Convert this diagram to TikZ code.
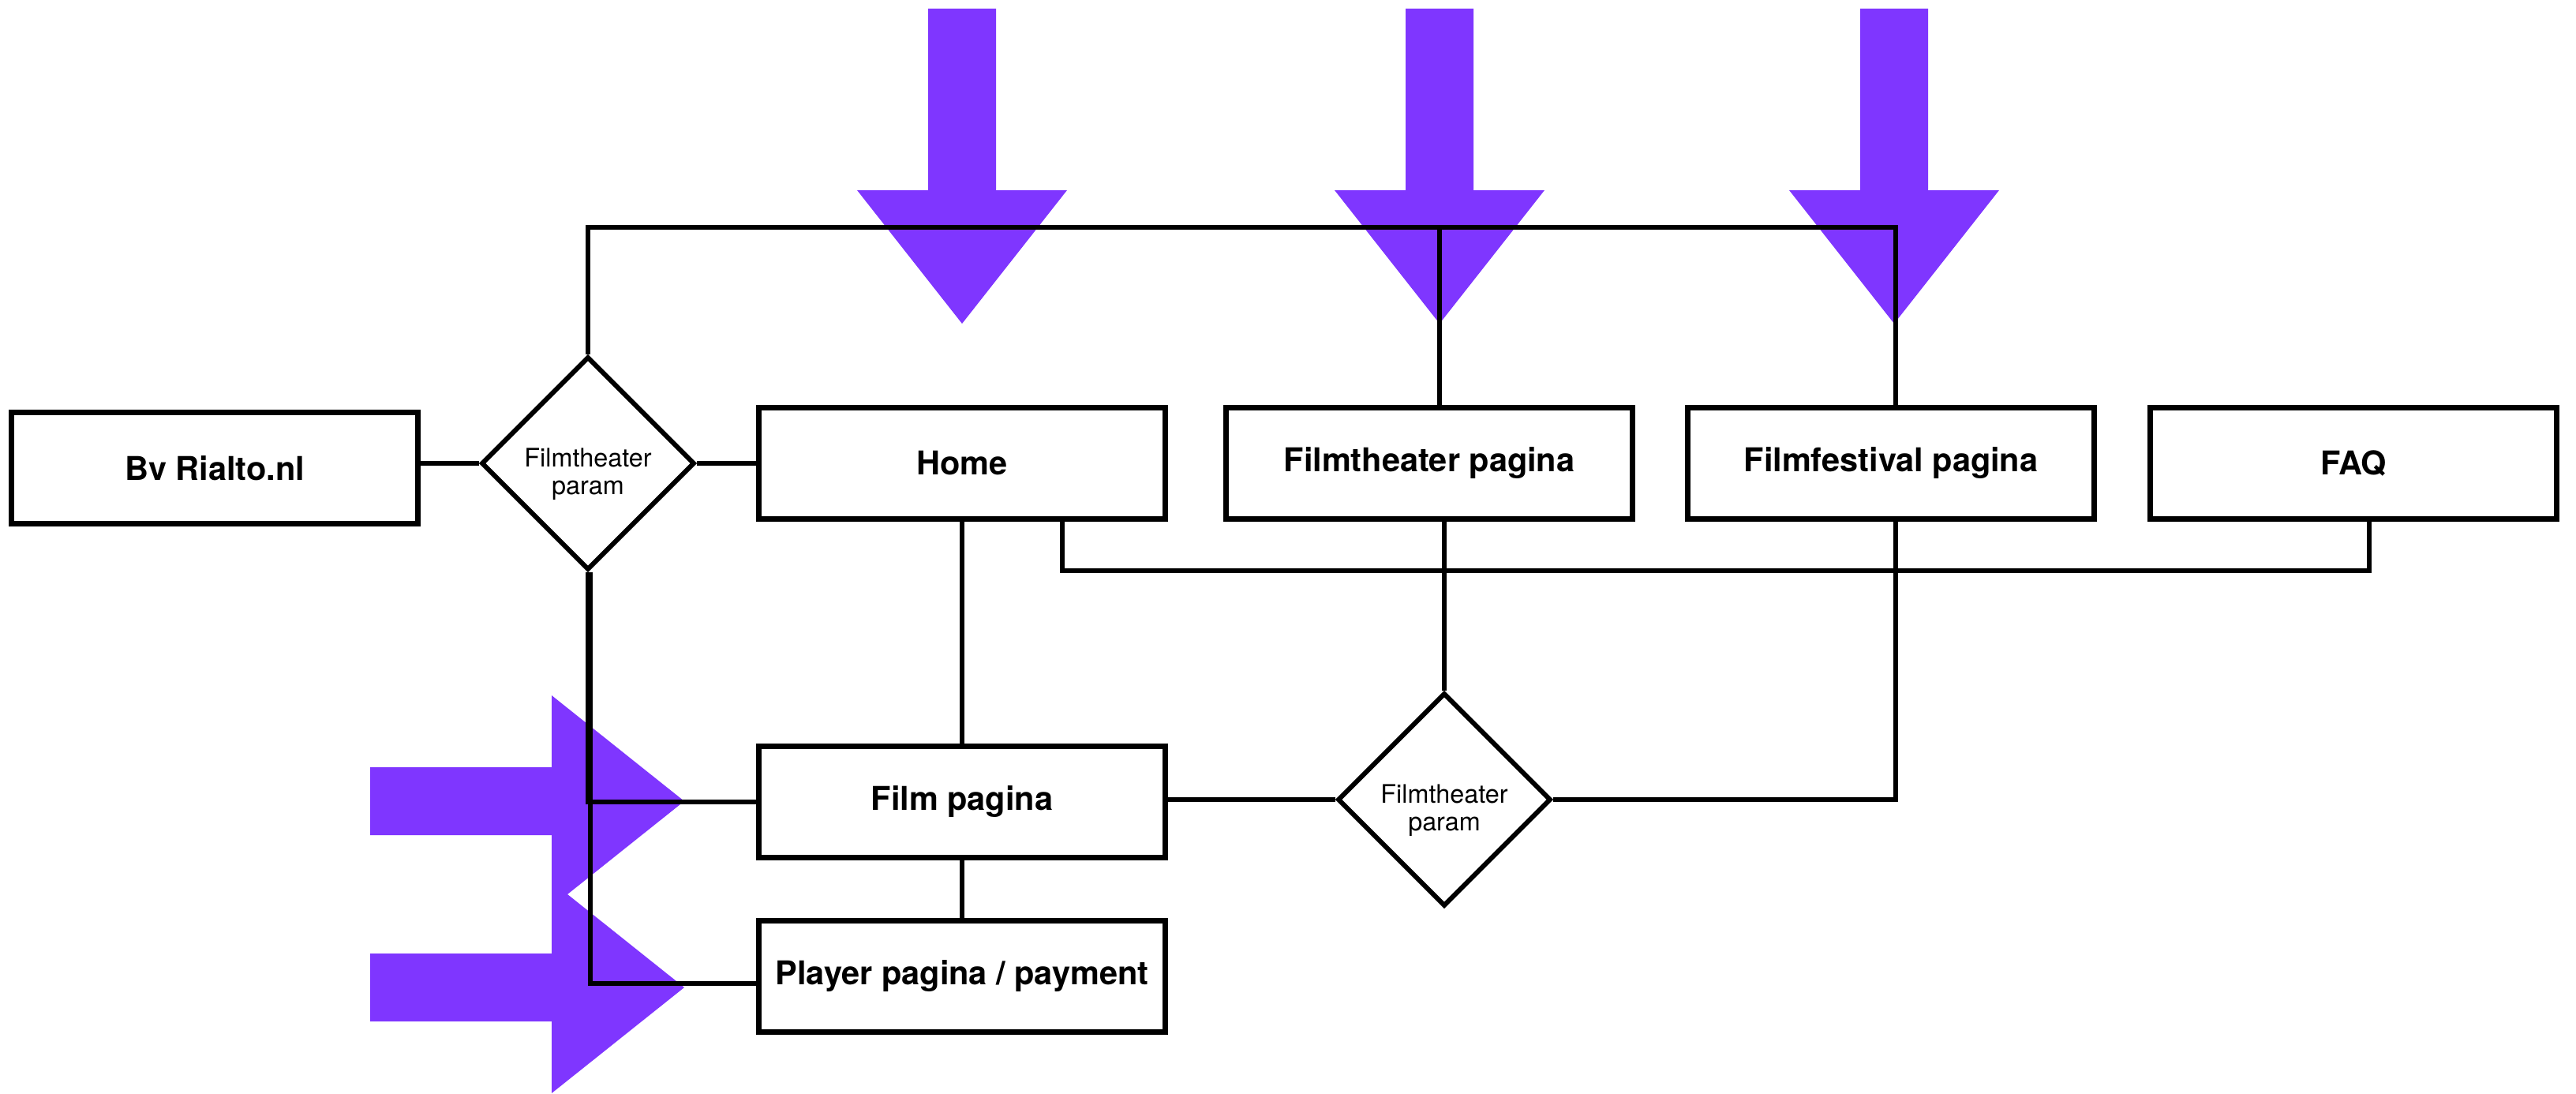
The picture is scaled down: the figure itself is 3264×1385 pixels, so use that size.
\documentclass[tikz,border=0pt]{standalone}
\usepackage{fontspec}
\setmainfont{TeX Gyre Heros}
\usetikzlibrary{shapes.geometric}
\definecolor{arrowpurple}{RGB}{127,54,255}
\begin{document}
\begin{tikzpicture}[x=0.01cm,y=-0.01cm,
  page/.style={draw, line width=2pt, fill=white, minimum width=5.14cm, minimum height=1.40cm, inner sep=0pt, font=\fontsize{11.8}{14}\selectfont\bfseries},
  param/.style={draw, diamond, line width=1.7pt, fill=white, minimum width=2.70cm, minimum height=2.70cm, inner sep=0pt},
  paramtext/.style={inner sep=0pt, align=center, font=\fontsize{9.2}{10}\selectfont},
  link/.style={line width=1.6pt},
  bigarrow/.style={fill=arrowpurple}]
\useasboundingbox (0,0) rectangle (3264,1385);
% purple arrows
\foreach \cx in {1219,1824,2400}
  \fill[bigarrow] (\cx-43,11) -- (\cx+43,11) -- (\cx+43,241) -- (\cx+133,241) -- (\cx,410) -- (\cx-133,241) -- (\cx-43,241) -- cycle;
\foreach \cy in {1015,1251}
  \fill[bigarrow] (469,\cy-43) -- (699,\cy-43) -- (699,\cy-134) -- (867,\cy) -- (699,\cy+134) -- (699,\cy+43) -- (469,\cy+43) -- cycle;
% nodes
\node[page] (bv) at (272,593) {Bv Rialto.nl};
\node[param] (d1) at (745,587) {};
\node[paramtext] (d1t) at ([yshift=-0.14cm]d1.center) {Filmtheater\\param};
\node[page] (home) at (1219,587) {Home};
\node[page] (ft) at (1811,587) {Filmtheater pagina};
\node[page] (ff) at (2396,587) {Filmfestival pagina};
\node[page] (faq) at (2982,587) {FAQ};
\node[page] (film) at (1219,1016) {Film pagina};
\node[page] (player) at (1219,1237) {Player pagina / payment};
\node[param] (d2) at (1830,1013) {};
\node[paramtext] (d2t) at ([yshift=-0.14cm]d2.center) {Filmtheater\\param};
\coordinate (busY) at (0,288);
\coordinate (faqY) at (0,723);
% connectors
\draw[link] (d1.west -| bv.east) -- (d1.west);
\draw[link] (d1.east) -- (d1.east -| home.west);
\draw[link] (d1.north) -- (d1.north |- busY) -| ([xshift=0.06cm]ff.north);
\draw[link] ([xshift=0.13cm]ft.north |- busY) -- ([xshift=0.13cm]ft.north);
\draw[link] (home.south) -- (film.north);
\draw[link] ([xshift=1.27cm]home.south) -- ([xshift=1.27cm]home.south |- faqY) -| ([xshift=0.2cm]faq.south);
\draw[link] (d2.north) -- (d2.north |- ft.south);
\draw[link] (d2.east) -| ([xshift=0.06cm]ff.south);
\draw[link] (d2.west) -- (d2.west -| film.east);
\draw[link] (film.south) -- (player.north);
\draw[link] (d1.south) |- (film.west);
\draw[link] ([xshift=0.03cm]d1.south) |- ([yshift=-0.09cm]player.west);
\end{tikzpicture}
\end{document}
